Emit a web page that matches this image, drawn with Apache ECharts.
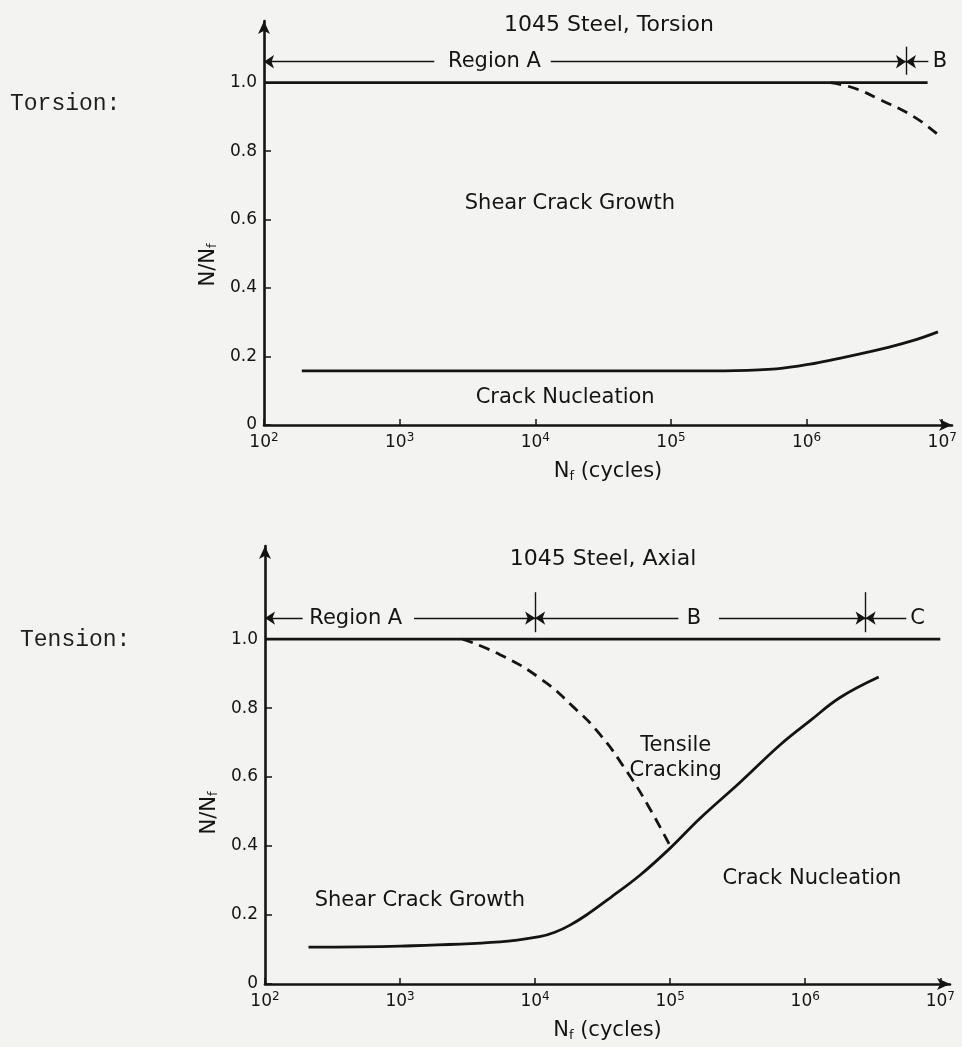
<!DOCTYPE html>
<html>
<head>
<meta charset="utf-8">
<script src="https://cdn.jsdelivr.net/npm/echarts@6/dist/echarts.min.js"></script>
<style>
html,body{margin:0;padding:0;background:#f3f3f1;}
#c{width:962px;height:1047px;}
</style>
</head>
<body>
<div id="c"></div>
<script>
// ---------- data ----------
const xTickValues = [1e2, 1e3, 1e4, 1e5, 1e6, 1e7];
const yTickValues = [0, 0.2, 0.4, 0.6, 0.8, 1.0];
const yTickLabels = ['0', '0.2', '0.4', '0.6', '0.8', '1.0'];

const chartTitles = ['1045 Steel, Torsion', '1045 Steel, Axial'];
const sideLabels = ['Torsion:', 'Tension:'];

// Torsion
const torsionTopN = [1e2, 7.8e6];
const torsionTopR = [1.0, 1.0];
const torsionDashN = [1.5e6, 2.2e6, 3.5e6, 6.2e6, 9.3e6];
const torsionDashR = [1.0, 0.985, 0.95, 0.90, 0.848];
const torsionNucN = [190, 1e3, 1e4, 1e5, 3e5, 6e5, 1e6, 2e6, 4e6, 6.5e6, 9.3e6];
const torsionNucR = [0.158, 0.158, 0.158, 0.158, 0.159, 0.164, 0.176, 0.2, 0.227, 0.25, 0.272];

// Axial
const axialTopN = [1e2, 1e7];
const axialTopR = [1.0, 1.0];
const axialDashN = [2900, 5500, 1.1e4, 1.9e4, 3e4, 4.8e4, 6.8e4, 1e5];
const axialDashR = [1.0, 0.955, 0.885, 0.805, 0.725, 0.615, 0.52, 0.40];
const axialNucN = [210, 1e3, 5500, 1.1e4, 1.4e4, 1.8e4, 2.4e4, 3.6e4, 6e4, 1e5, 1.66e5, 3.3e5, 6.5e5, 1.1e6, 1.8e6, 3.5e6];
const axialNucR = [0.107, 0.11, 0.122, 0.138, 0.15, 0.17, 0.2, 0.25, 0.316, 0.394, 0.48, 0.585, 0.693, 0.765, 0.83, 0.89];

// Region annotations (data coordinates)
const torsionRegionLevel = 1.061;
const torsionDividers = [5.4e6];
const torsionDividerSpan = [1.023, 1.105];
const torsionSegFrom = [1e2, 1.3e4, 5.4e6];
const torsionSegTo = [1.8e3, 5.4e6, 7.9e6];
const torsionSegArrow = ['start', 'end', 'start'];
const torsionRegionText = ['Region A', 'B'];
const torsionRegionTextN = [5e3, 9.6e6];

const axialRegionLevel = 1.061;
const axialDividers = [1e4, 2.8e6];
const axialDividerSpan = [1.02, 1.136];
const axialSegFrom = [1e2, 1.27e3, 1e4, 2.3e5, 2.8e6];
const axialSegTo = [190, 1e4, 1.15e5, 2.8e6, 5.6e6];
const axialSegArrow = ['start', 'end', 'start', 'end', 'start'];
const axialRegionText = ['Region A', 'B', 'C'];
const axialRegionTextN = [4.7e2, 1.5e5, 6.8e6];

// In-plot labels
const torsionLabelText = ['Shear Crack Growth', 'Crack Nucleation'];
const torsionLabelN = [1.8e4, 1.66e4];
const torsionLabelR = [0.646, 0.079];
const axialLabelText = ['Shear Crack Growth', 'Crack Nucleation', 'Tensile\nCracking'];
const axialLabelN = [1.4e3, 1.12e6, 1.1e5];
const axialLabelR = [0.243, 0.307, 0.655];

// ---------- helpers ----------
const INK = '#141414';
const FONT = 'DejaVu Sans';
const zip = (a, b) => a.map((v, i) => [v, b[i]]);

function xAxisFor(gi) {
  return {
    type: 'log', gridIndex: gi, min: 1e2, max: 1.18e7, logBase: 10,
    axisLine: { show: true, onZero: false, symbol: ['none', 'arrow'], symbolSize: [9, 13], lineStyle: { color: INK, width: 2.6 } },
    axisTick: { show: true, inside: true, length: 6, customValues: xTickValues, lineStyle: { color: INK, width: 1.5 } },
    minorTick: { show: false }, splitLine: { show: false },
    axisLabel: {
      customValues: xTickValues, margin: 7, color: INK, fontFamily: FONT,
      formatter: v => '{b|10}{s|' + Math.round(Math.log10(v)) + '}',
      rich: { b: { fontSize: 17, fontFamily: FONT, color: INK }, s: { fontSize: 12, fontFamily: FONT, color: INK, padding: [0, 0, 9, 0] } }
    },
    name: '{a|N}{f|f}{a| (cycles)}', nameLocation: 'middle', nameGap: 36,
    nameTextStyle: { rich: { a: { fontSize: 21, fontFamily: FONT, color: INK }, f: { fontSize: 13, fontFamily: FONT, color: INK, padding: [9, 0, 0, 0] } } }
  };
}
function yAxisFor(gi, max, namePad) {
  return {
    type: 'value', gridIndex: gi, min: 0, max: max, interval: 0.2,
    axisLine: { show: true, symbol: ['none', 'arrow'], symbolSize: [9, 13], lineStyle: { color: INK, width: 2.6 } },
    axisTick: { show: true, inside: true, length: 7, customValues: yTickValues, lineStyle: { color: INK, width: 1.5 } },
    splitLine: { show: false },
    axisLabel: {
      customValues: yTickValues, margin: 7, color: INK, fontFamily: FONT, fontSize: 17,
      formatter: v => yTickLabels[yTickValues.findIndex(t => Math.abs(t - v) < 1e-6)] || ''
    },
    name: '{a|N/N}{f|f}', nameLocation: 'middle', nameGap: 37, nameRotate: 90,
    nameTextStyle: { padding: [0, namePad, 0, 0], rich: { a: { fontSize: 21, fontFamily: FONT, color: INK }, f: { fontSize: 13, fontFamily: FONT, color: INK, padding: [9, 0, 0, 0] } } }
  };
}
function curve(gi, n, r, dashed, smooth) {
  return {
    type: 'line', xAxisIndex: gi, yAxisIndex: gi, data: zip(n, r), showSymbol: false, symbol: 'none',
    smooth: smooth, silent: true,
    lineStyle: { color: INK, width: 2.8, type: dashed ? [11, 7] : 'solid', cap: 'butt' }
  };
}
function regionSeries(gi, level, from, to, arrows, dividers, span) {
  const lines = from.map((f, i) => [
    { coord: [f, level], symbol: arrows[i] === 'start' ? 'arrow' : 'none' },
    { coord: [to[i], level], symbol: arrows[i] === 'end' ? 'arrow' : 'none' }
  ]);
  dividers.forEach(d => lines.push([
    { coord: [d, span[0]], symbol: 'none' }, { coord: [d, span[1]], symbol: 'none' }
  ]));
  return {
    type: 'line', xAxisIndex: gi, yAxisIndex: gi, data: [], silent: true,
    markLine: {
      silent: true, animation: false, symbolSize: 10, label: { show: false },
      lineStyle: { color: INK, width: 1.4, type: 'solid' }, data: lines
    }
  };
}
function textSeries(gi, n, r, texts, size) {
  return {
    type: 'scatter', xAxisIndex: gi, yAxisIndex: gi, symbolSize: 0, silent: true,
    itemStyle: { opacity: 1, color: INK },
    data: n.map((v, i) => ({ value: [v, r[i]], name: texts[i] })),
    label: { show: true, position: 'inside', formatter: p => p.name, color: INK, opacity: 1, textBorderWidth: 0, fontFamily: FONT, fontSize: size, lineHeight: size + 4, align: 'center', verticalAlign: 'middle' }
  };
}

const titleStyle = { fontFamily: FONT, fontSize: 22, fontWeight: 'normal', color: INK };
const sideStyle = { fontFamily: 'Liberation Mono', fontSize: 23, fontWeight: 'normal', color: '#1e1e1e' };

const option = {
  backgroundColor: '#f3f3f1',
  animation: false,
  title: [
    { text: chartTitles[0], left: 604, top: 9, textAlign: 'center', textStyle: titleStyle },
    { text: chartTitles[1], left: 598, top: 543, textAlign: 'center', textStyle: titleStyle },
    { text: sideLabels[0], left: 5, top: 87, textStyle: sideStyle },
    { text: sideLabels[1], left: 15, top: 623, textStyle: sideStyle }
  ],
  grid: [
    { left: 264, top: 21, width: 688, height: 404, containLabel: false },
    { left: 265, top: 546, width: 685, height: 438, containLabel: false }
  ],
  xAxis: [xAxisFor(0), xAxisFor(1)],
  yAxis: [yAxisFor(0, 1.18, 84), yAxisFor(1, 1.27, 96)],
  series: [
    curve(0, torsionTopN, torsionTopR, false, 0),
    curve(0, torsionDashN, torsionDashR, true, 0.45),
    curve(0, torsionNucN, torsionNucR, false, 0.3),
    regionSeries(0, torsionRegionLevel, torsionSegFrom, torsionSegTo, torsionSegArrow, torsionDividers, torsionDividerSpan),
    textSeries(0, torsionRegionTextN, torsionRegionText.map(() => torsionRegionLevel), torsionRegionText, 21),
    textSeries(0, torsionLabelN, torsionLabelR, torsionLabelText, 21),
    curve(1, axialTopN, axialTopR, false, 0),
    curve(1, axialDashN, axialDashR, true, 0.5),
    curve(1, axialNucN, axialNucR, false, 0.4),
    regionSeries(1, axialRegionLevel, axialSegFrom, axialSegTo, axialSegArrow, axialDividers, axialDividerSpan),
    textSeries(1, axialRegionTextN, axialRegionText.map(() => axialRegionLevel), axialRegionText, 21),
    textSeries(1, axialLabelN, axialLabelR, axialLabelText, 21)
  ]
};
const chart = echarts.init(document.getElementById('c'), null, { renderer: 'canvas' });
chart.setOption(option);
</script>
</body>
</html>
